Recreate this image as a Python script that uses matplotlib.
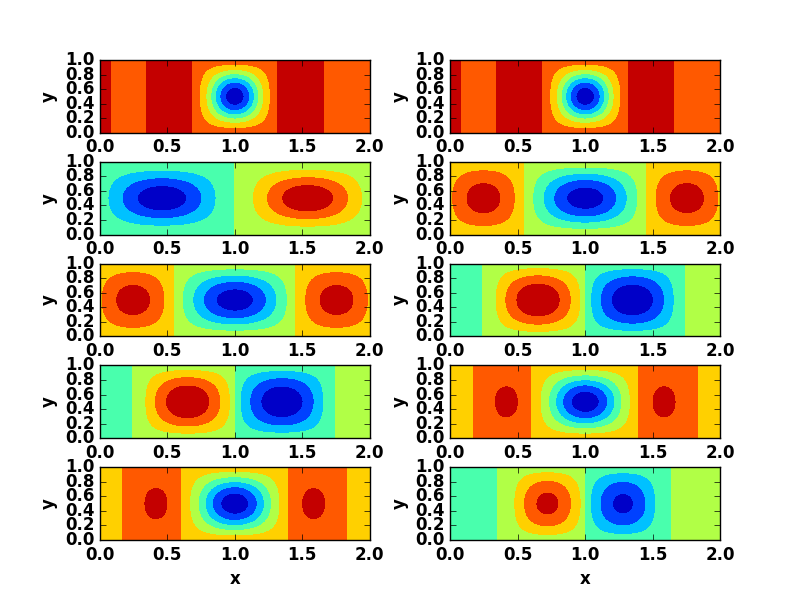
import numpy as np
import matplotlib
matplotlib.use('Agg')
import matplotlib.pyplot as plt

plt.style.use('classic')
plt.rcParams['font.family'] = ['DejaVu Sans']
plt.rcParams['font.weight'] = 'bold'
plt.rcParams['axes.labelweight'] = 'bold'

# Six fields, in contour-level units (levels 0..8).
# Piecewise-constant background: strip edges along x and the value in each strip
BG_EDGES = [
    [0.0, 0.08, 0.345, 0.68, 1.32, 1.66, 2.0],
    [0.0, 1.0, 2.0],
    [0.0, 0.545, 1.455, 2.0],
    [0.0, 0.237, 1.0, 1.748, 2.0],
    [0.0, 0.167, 0.6, 1.4, 1.833, 2.0],
    [0.0, 0.353, 1.0, 1.642, 2.0],
]
BG_VALUES = [
    [7.4, 6.4, 7.4, 6.4, 7.4, 6.4],
    [3.65, 4.35],
    [5.4, 4.6, 5.4],
    [3.65, 4.35, 3.65, 4.35],
    [5.5, 6.5, 5.5, 6.5, 5.5],
    [3.65, 4.35, 3.65, 4.35],
]

# Cells: field index, amplitude, centre x, half-width, x-exponent, y-exponent
CELL_FIELD = [0, 1, 1, 2, 2, 2, 3, 3, 4, 4, 4, 5, 5]
CELL_AMP = [-6.1, -3.4, 3.4, -4.2, 2.1, 2.1, 3.5, -3.5, -5.2, 0.8, 0.8, 2.95, -2.95]
CELL_CENTER = [1.0, 0.46, 1.54, 1.0, 0.245, 1.755, 0.65, 1.35, 1.0, 0.415, 1.585, 0.72, 1.28]
CELL_HALF = [0.32, 0.5, 0.5, 0.455, 0.30, 0.30, 0.36, 0.36, 0.40, 0.18, 0.18, 0.30, 0.30]
CELL_QX = [2.1, 1.4, 1.4, 1.3, 1.25, 1.25, 1.1, 1.1, 1.7, 1.7, 1.7, 1.25, 1.25]
CELL_PY = [1.6, 1.6, 1.6, 1.3, 1.3, 1.3, 1.1, 1.1, 1.35, 2.1, 2.1, 1.05, 1.05]

# which field is drawn in each panel (row-major, 5 rows x 2 columns)
PANEL_FIELD = [0, 0, 1, 2, 2, 3, 3, 4, 4, 5]
LEVELS = np.arange(9)
X_TICKS = [0.0, 0.5, 1.0, 1.5, 2.0]
Y_TICKS = [0.0, 0.2, 0.4, 0.6, 0.8, 1.0]

x = np.linspace(0, 2, 401)
y = np.linspace(0, 1, 201)
X, Y = np.meshgrid(x, y)


def field(i):
    edges = np.asarray(BG_EDGES[i])
    vals = np.asarray(BG_VALUES[i])
    idx = np.clip(np.searchsorted(edges, X, side='right') - 1, 0, len(vals) - 1)
    Z = vals[idx].astype(float)
    for k, fi in enumerate(CELL_FIELD):
        if fi != i:
            continue
        u = (X - CELL_CENTER[k]) / CELL_HALF[k]
        gx = np.where(np.abs(u) < 1, np.cos(0.5 * np.pi * np.clip(u, -1, 1)), 0.0)
        gx = np.abs(gx) ** CELL_QX[k]
        gy = np.abs(np.sin(np.pi * Y)) ** CELL_PY[k]
        Z = Z + CELL_AMP[k] * gx * gy
    return np.clip(Z, 0.001, 7.999)


fig, axes = plt.subplots(5, 2, figsize=(8, 6))
fig.subplots_adjust(left=0.125, right=0.9, bottom=0.1, top=0.9, wspace=0.3, hspace=0.4)
for n, ax in enumerate(axes.flat):
    Z = field(PANEL_FIELD[n])
    ax.contourf(X, Y, Z, levels=LEVELS, cmap='jet')
    ax.set_xlim(0, 2)
    ax.set_ylim(0, 1)
    ax.set_xticks(X_TICKS)
    ax.set_yticks(Y_TICKS)
    ax.set_ylabel('y')
    if n >= 8:
        ax.set_xlabel('x')

fig.savefig('out.png', dpi=100)
